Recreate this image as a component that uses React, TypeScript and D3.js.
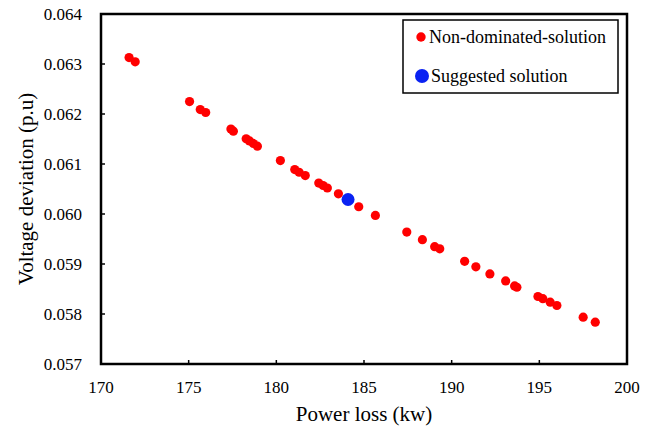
import React from "react";
import * as d3 from "d3";

const powerLoss = [
  171.6, 171.95, 175.05, 175.66, 175.97, 177.41, 177.55, 178.28, 178.47, 178.69,
  178.92, 180.23, 181.05, 181.3, 181.65, 182.42, 182.67, 182.91, 183.54, 184.7,
  185.65, 187.44, 188.33, 189.03, 189.32, 190.74, 191.38, 192.18, 193.08, 193.59,
  193.72, 194.92, 195.2, 195.62, 196.0, 197.5, 198.19,
];
const voltageDev = [
  0.063128, 0.063043, 0.062249, 0.062089, 0.06203, 0.0617, 0.061657, 0.061503, 0.061461, 0.061411,
  0.061357, 0.061068, 0.060889, 0.060835, 0.060769, 0.060619, 0.06057, 0.06052, 0.060404, 0.060145,
  0.059971, 0.059638, 0.059487, 0.059347, 0.059303, 0.059054, 0.058944, 0.058801, 0.058661, 0.058561,
  0.058535, 0.05835, 0.058306, 0.058236, 0.05817, 0.057937, 0.057837,
];
const suggestedLoss = [184.09];
const suggestedDev = [0.06029];

const xTicks = [170, 175, 180, 185, 190, 195, 200];
const yTicks = [0.057, 0.058, 0.059, 0.06, 0.061, 0.062, 0.063, 0.064];
const legendLabels = ["Non-dominated-solution", "Suggested solution"];
const xTitle = "Power loss (kw)";
const yTitle = "Voltage deviation (p.u)";

const FONT = '"Liberation Serif", "Times New Roman", Times, serif';

export default function App() {
  const W = 657, H = 429;
  const left = 101, right = 627, top = 14, bottom = 364;
  const x = d3.scaleLinear().domain([170, 200]).range([left, right]);
  const y = d3.scaleLinear().domain([0.057, 0.064]).range([bottom, top]);
  const red = "#ff0000";
  const blue = "#0a22f2";
  const ts = { fontFamily: FONT };

  return (
    <svg width={W} height={H} style={{ position: "absolute", left: 0, top: 0, background: "#fff", fontFamily: FONT }}>
      <rect x={0} y={0} width={W} height={H} fill="#fff" />
      {xTicks.slice(1, -1).map((t) => (
        <line key={"xt" + t} x1={x(t)} x2={x(t)} y1={bottom} y2={bottom - 4} stroke="#000" strokeWidth={1.5} />
      ))}
      {yTicks.slice(1, -1).map((t) => (
        <line key={"yt" + t} x1={left} x2={left + 4} y1={y(t)} y2={y(t)} stroke="#000" strokeWidth={1.5} />
      ))}
      {xTicks.map((t) => (
        <text key={"xl" + t} x={x(t)} y={393} fontSize={17} textAnchor="middle" fill="#000" style={ts}>{t}</text>
      ))}
      {yTicks.map((t) => (
        <text key={"yl" + t} x={82} y={y(t)} dy="0.35em" fontSize={17} textAnchor="end" fill="#000" style={ts}>{d3.format(".3f")(t)}</text>
      ))}
      {powerLoss.map((p, i) => (
        <circle key={"p" + i} cx={x(p)} cy={y(voltageDev[i])} r={4.6} fill={red} />
      ))}
      {suggestedLoss.map((p, i) => (
        <circle key={"s" + i} cx={x(p)} cy={y(suggestedDev[i])} r={6.5} fill={blue} />
      ))}
      <rect x={left} y={top} width={right - left} height={bottom - top} fill="none" stroke="#000" strokeWidth={2.5} />
      <rect x={403} y={20} width={215} height={73} fill="#fff" stroke="#000" strokeWidth={1.5} />
      <circle cx={421} cy={37} r={4.7} fill={red} />
      <text x={429} y={43} fontSize={18} fill="#000" style={ts}>{legendLabels[0]}</text>
      <circle cx={422} cy={76} r={7} fill={blue} />
      <text x={431} y={82} fontSize={18} fill="#000" style={ts}>{legendLabels[1]}</text>
      <text x={(left + right) / 2} y={421} fontSize={21} textAnchor="middle" fill="#000" style={ts}>{xTitle}</text>
      <text transform={`translate(33,${(top + bottom) / 2}) rotate(-90)`} fontSize={21} textAnchor="middle" fill="#000" style={ts}>{yTitle}</text>
    </svg>
  );
}
